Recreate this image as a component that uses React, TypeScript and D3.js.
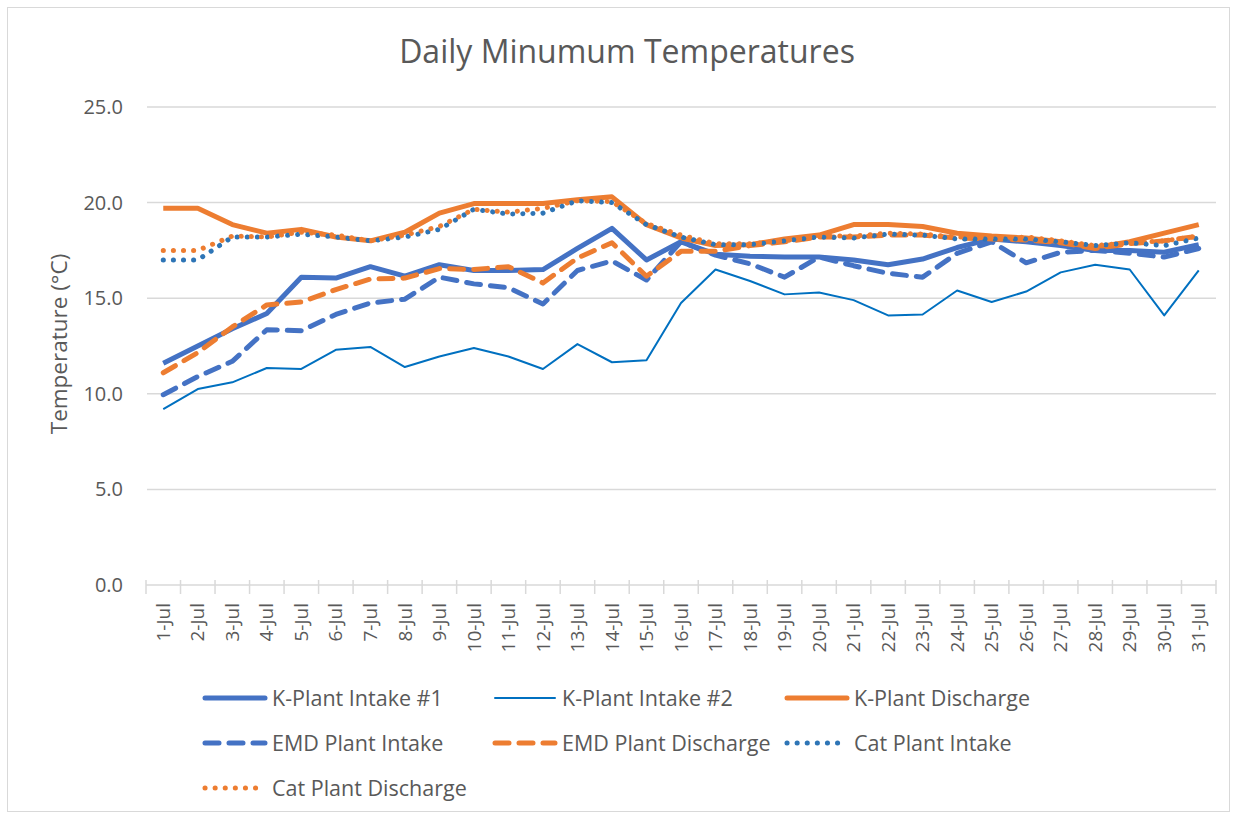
import * as d3 from "d3";

const days = d3.range(1, 32).map((d) => `${d}-Jul`);
const yTicks = [0, 5, 10, 15, 20, 25];

const kIntake1 = [11.6, 12.5, 13.4, 14.2, 16.1, 16.05, 16.65, 16.15, 16.75, 16.45, 16.45, 16.5, 17.6, 18.65, 17.0, 17.95, 17.3, 17.2, 17.15, 17.15, 17.0, 16.75, 17.05, 17.65, 18.1, 17.95, 17.75, 17.5, 17.5, 17.4, 17.8];
const kIntake2 = [9.2, 10.25, 10.6, 11.35, 11.3, 12.3, 12.45, 11.4, 11.95, 12.4, 11.95, 11.3, 12.6, 11.65, 11.75, 14.75, 16.5, 15.9, 15.2, 15.3, 14.9, 14.1, 14.15, 15.4, 14.8, 15.35, 16.35, 16.75, 16.5, 14.1, 16.45];
const kDischarge = [19.7, 19.7, 18.85, 18.4, 18.6, 18.2, 18.0, 18.45, 19.45, 19.95, 19.95, 19.95, 20.15, 20.3, 18.85, 18.15, 17.75, 17.8, 18.1, 18.3, 18.85, 18.85, 18.75, 18.4, 18.25, 18.15, 17.95, 17.65, 17.95, 18.4, 18.85];
const emdIntake = [9.95, 10.9, 11.7, 13.35, 13.3, 14.15, 14.75, 14.95, 16.1, 15.75, 15.55, 14.7, 16.45, 16.95, 15.95, 17.95, 17.25, 16.8, 16.1, 17.15, 16.7, 16.3, 16.1, 17.35, 17.95, 16.85, 17.4, 17.5, 17.35, 17.15, 17.6];
const emdDischarge = [11.1, 12.15, 13.5, 14.65, 14.8, 15.45, 16.0, 16.05, 16.55, 16.5, 16.65, 15.8, 17.1, 17.9, 16.15, 17.45, 17.45, 17.75, 17.95, 18.2, 18.2, 18.3, 18.3, 18.15, 18.1, 18.05, 17.9, 17.6, 17.85, 18.0, 18.25];
const catIntake = [17.0, 17.0, 18.2, 18.2, 18.35, 18.2, 18.0, 18.2, 18.6, 19.65, 19.4, 19.45, 20.1, 20.0, 18.85, 18.2, 17.8, 17.8, 18.0, 18.2, 18.15, 18.35, 18.3, 18.1, 18.1, 18.1, 17.95, 17.75, 17.9, 17.75, 18.15];
const catDischarge = [17.5, 17.5, 18.25, 18.2, 18.45, 18.3, 18.0, 18.3, 18.75, 19.65, 19.5, 19.7, 20.1, 20.05, 18.9, 18.3, 17.85, 17.85, 18.0, 18.25, 18.25, 18.4, 18.35, 18.2, 18.15, 18.2, 18.0, 17.75, 17.9, 18.0, 18.25];

const series = [
  { name: "K-Plant Intake #1", values: kIntake1, color: "#4472C4", width: 5, dash: "" },
  { name: "K-Plant Intake #2", values: kIntake2, color: "#0070C0", width: 2, dash: "" },
  { name: "K-Plant Discharge", values: kDischarge, color: "#ED7D31", width: 5, dash: "" },
  { name: "EMD Plant Intake", values: emdIntake, color: "#4472C4", width: 5, dash: "14 10" },
  { name: "EMD Plant Discharge", values: emdDischarge, color: "#ED7D31", width: 5, dash: "14 10" },
  { name: "Cat Plant Intake", values: catIntake, color: "#2E75B6", width: 5, dash: "0.1 10" },
  { name: "Cat Plant Discharge", values: catDischarge, color: "#ED7D31", width: 5, dash: "0.1 10" },
];

const W = 1238;
const H = 820;
const font = "'Open Sans', Lato, sans-serif";

export default function App() {
  const x = d3.scaleBand().domain(days).range([146, 1216]).padding(0);
  const y = d3.scaleLinear().domain([0, 25]).range([585, 107]);
  const cx = (i: number) => (x(days[i]) as number) + x.bandwidth() / 2;
  const line = d3
    .line<number>()
    .x((_, i) => cx(i))
    .y((d) => y(d));

  // legend sample start x per column, row y
  const legendCols = [203, 493, 785];
  const legendRows = [698, 743, 788];

  return (
    <svg width={W} height={H} style={{ position: "absolute", left: 0, top: 0 }} fontFamily={font}>
      <rect x={7.5} y={7.5} width={1222} height={804} fill="#fff" stroke="#D9D9D9" />
      <text x={627} y={63} textAnchor="middle" fontSize={32} fill="#595959">
        Daily Minumum Temperatures
      </text>
      {yTicks.map((t) => (
        <g key={t}>
          {t > 0 && <line x1={147} x2={1216} y1={y(t)} y2={y(t)} stroke="#D9D9D9" strokeWidth={1.5} />}
          <text x={123} y={y(t)} dy="0.35em" textAnchor="end" fontSize={20} fill="#595959">
            {t.toFixed(1)}
          </text>
        </g>
      ))}
      <text
        transform={`translate(67,${344}) rotate(-90)`}
        textAnchor="middle"
        fontSize={22.5}
        fill="#595959"
      >
        Temperature (°C)
      </text>
      <line x1={146} x2={1216} y1={y(0)} y2={y(0)} stroke="#D9D9D9" strokeWidth={1.5} />
      {days.concat(["end"]).map((d, i) => {
        const xx = 146 + i * x.step();
        return <line key={d} x1={xx} x2={xx} y1={580} y2={594} stroke="#D9D9D9" strokeWidth={1.5} />;
      })}
      {days.map((d, i) => (
        <text
          key={d}
          transform={`translate(${cx(i)},${603}) rotate(-90)`}
          textAnchor="end"
          dy="0.35em"
          fontSize={19}
          fill="#595959"
        >
          {d}
        </text>
      ))}
      {series.map((s) => (
        <path
          key={s.name}
          d={line(s.values) as string}
          fill="none"
          stroke={s.color}
          strokeWidth={s.width}
          strokeDasharray={s.dash || undefined}
          strokeLinecap={s.dash ? "round" : "butt"}
          strokeLinejoin="round"
        />
      ))}
      {series.map((s, i) => {
        const lx = legendCols[i % 3];
        const ly = legendRows[Math.floor(i / 3)];
        return (
          <g key={s.name}>
            <line
              x1={lx + 2}
              x2={lx + 62}
              y1={ly}
              y2={ly}
              stroke={s.color}
              strokeWidth={s.width}
              strokeDasharray={s.dash || undefined}
              strokeLinecap="round"
            />
            <text x={lx + 69} y={ly} dy="0.35em" fontSize={21.5} fill="#595959">
              {s.name}
            </text>
          </g>
        );
      })}
    </svg>
  );
}
